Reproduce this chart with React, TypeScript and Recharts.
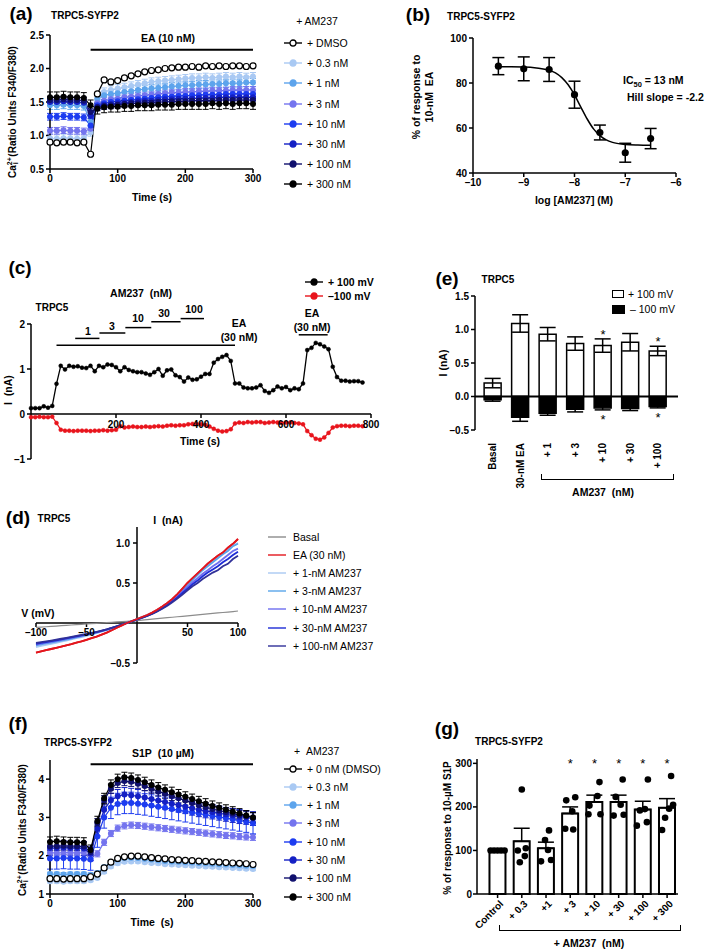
import React from 'react';
import {
  LineChart,
  Line,
  ComposedChart,
  Bar,
  Scatter,
  XAxis,
  YAxis,
  ErrorBar,
  ReferenceLine,
  ReferenceDot,
} from 'recharts';

const FONT = '"Liberation Sans", Arial, Helvetica, sans-serif';

// ---------- (a) Ca2+ trace, EA 10 nM with AM237 ----------
const timeA = [0, 10, 20, 30, 40, 50, 60, 70, 80, 90, 100, 110, 120, 130, 140, 150, 160, 170, 180, 190, 200, 210, 220, 230, 240, 250, 260, 270, 280, 290, 300];
const aDmso = [0.9, 0.89, 0.9, 0.9, 0.89, 0.9, 0.72, 1.62, 1.83, 1.8, 1.82, 1.86, 1.89, 1.92, 1.95, 1.97, 1.98, 2.0, 2.01, 2.02, 2.02, 2.03, 2.02, 2.04, 2.03, 2.04, 2.03, 2.04, 2.04, 2.03, 2.04];
const aC03 = [0.96, 0.95, 0.96, 0.96, 0.95, 0.96, 1.05, 1.55, 1.65, 1.68, 1.7, 1.72, 1.74, 1.76, 1.78, 1.8, 1.81, 1.82, 1.83, 1.84, 1.85, 1.86, 1.86, 1.87, 1.86, 1.87, 1.88, 1.87, 1.88, 1.87, 1.88];
const aC1 = [1.45, 1.45, 1.46, 1.45, 1.45, 1.44, 1.2, 1.55, 1.6, 1.62, 1.63, 1.65, 1.66, 1.68, 1.69, 1.7, 1.71, 1.72, 1.73, 1.74, 1.75, 1.75, 1.76, 1.76, 1.77, 1.77, 1.78, 1.78, 1.78, 1.79, 1.79];
const aC3 = [1.07, 1.07, 1.08, 1.07, 1.07, 1.06, 1.1, 1.48, 1.52, 1.54, 1.55, 1.57, 1.58, 1.59, 1.6, 1.61, 1.62, 1.63, 1.64, 1.64, 1.65, 1.65, 1.66, 1.66, 1.67, 1.67, 1.67, 1.68, 1.68, 1.68, 1.68];
const aC10 = [1.28, 1.28, 1.29, 1.28, 1.28, 1.27, 1.15, 1.45, 1.48, 1.5, 1.51, 1.52, 1.53, 1.54, 1.55, 1.56, 1.57, 1.58, 1.58, 1.59, 1.59, 1.6, 1.6, 1.61, 1.61, 1.61, 1.62, 1.62, 1.62, 1.62, 1.62];
const aC30 = [1.5, 1.5, 1.51, 1.5, 1.5, 1.49, 1.3, 1.43, 1.46, 1.47, 1.48, 1.49, 1.5, 1.51, 1.52, 1.52, 1.53, 1.54, 1.54, 1.55, 1.55, 1.55, 1.56, 1.56, 1.56, 1.57, 1.57, 1.57, 1.57, 1.57, 1.57];
const aC100 = [1.53, 1.53, 1.54, 1.53, 1.53, 1.52, 1.35, 1.42, 1.44, 1.45, 1.46, 1.47, 1.48, 1.48, 1.49, 1.49, 1.5, 1.5, 1.51, 1.51, 1.51, 1.52, 1.52, 1.52, 1.52, 1.53, 1.53, 1.53, 1.53, 1.53, 1.53];
const aC300 = [1.57, 1.57, 1.58, 1.57, 1.57, 1.56, 1.45, 1.4, 1.42, 1.43, 1.43, 1.44, 1.44, 1.45, 1.45, 1.45, 1.46, 1.46, 1.46, 1.47, 1.47, 1.47, 1.47, 1.47, 1.48, 1.47, 1.48, 1.47, 1.48, 1.48, 1.47];
// SEM per trace
const aErr = [0.06, 0.06, 0.05, 0.05, 0.05, 0.05, 0.08, 0.02];

// ---------- (b) concentration-response ----------
const bLogC = [-9.5, -9, -8.5, -8, -7.5, -7, -6.5];
const bResp = [87.5, 86.3, 86.0, 74.8, 58.0, 49.0, 55.3];
const bSem = [3.8, 5.3, 5.3, 6.0, 3.3, 4.2, 4.5];
const bFitX = [-9.5, -9.25, -9, -8.75, -8.5, -8.375, -8.25, -8.125, -8, -7.875, -7.75, -7.625, -7.5, -7.375, -7.25, -7, -6.75, -6.5];
const bFitY = [87.2, 87.18, 87.1, 86.7, 85.7, 84.5, 82.4, 79.2, 74.7, 69.3, 64.0, 59.6, 56.6, 54.7, 53.6, 52.7, 52.4, 52.3];

// ---------- (c) whole-cell current time course ----------
const cTime = [0, 10, 20, 30, 40, 50, 60, 70, 80, 90, 100, 110, 120, 130, 140, 150, 160, 170, 180, 190, 200, 210, 220, 230, 240, 250, 260, 270, 280, 290, 300, 310, 320, 330, 340, 350, 360, 370, 380, 390, 400, 410, 420, 430, 440, 450, 460, 470, 480, 490, 500, 510, 520, 530, 540, 550, 560, 570, 580, 590, 600, 610, 620, 630, 640, 650, 660, 670, 680, 690, 700, 710, 720, 730, 740, 750, 760, 770, 780];
const cPos = [
  0.13, 0.13, 0.13, 0.17, 0.14, 0.18, 0.67, 1.07, 0.99, 1.07,
  1.05, 1.06, 1.03, 1.02, 1.07, 0.95, 1.07, 1.04, 1.1, 1.09,
  1.04, 0.95, 1.04, 0.98, 0.95, 0.93, 0.93, 0.9, 0.87, 0.93,
  1.0, 0.85, 0.97, 0.99, 0.86, 0.82, 0.72, 0.81, 0.76, 0.77,
  0.83, 0.89, 0.89, 1.14, 1.22, 1.27, 1.31, 1.18, 0.68, 0.68,
  0.59, 0.57, 0.57, 0.59, 0.64, 0.51, 0.47, 0.53, 0.61, 0.57,
  0.6, 0.53, 0.57, 0.55, 0.68, 1.42, 1.47, 1.58, 1.55, 1.5,
  1.44, 1.05, 0.82, 0.74, 0.74, 0.72, 0.73, 0.73, 0.7,
];
const cNeg = [
  -0.07, -0.07, -0.06, -0.07, -0.07, -0.06, -0.2, -0.35, -0.37, -0.37,
  -0.38, -0.37, -0.37, -0.37, -0.38, -0.37, -0.37, -0.36, -0.37, -0.36,
  -0.35, -0.27, -0.3, -0.29, -0.28, -0.29, -0.29, -0.28, -0.29, -0.28,
  -0.27, -0.28, -0.26, -0.25, -0.26, -0.25, -0.25, -0.23, -0.22, -0.22,
  -0.23, -0.24, -0.28, -0.33, -0.37, -0.39, -0.38, -0.34, -0.21, -0.19,
  -0.2, -0.18, -0.19, -0.18, -0.18, -0.2, -0.19, -0.18, -0.19, -0.2,
  -0.19, -0.19, -0.2, -0.21, -0.23, -0.38, -0.47, -0.55, -0.57, -0.52,
  -0.42, -0.3, -0.27, -0.26, -0.26, -0.27, -0.26, -0.26, -0.27,
];

// ---------- (d) I-V relationships ----------
const ivV = [-100, -95, -90, -85, -80, -75, -70, -65, -60, -55, -50, -45, -40, -35, -30, -25, -20, -15, -10, -5, 0, 5, 10, 15, 20, 25, 30, 35, 40, 45, 50, 55, 60, 65, 70, 75, 80, 85, 90, 95, 100];
const ivBasal = [-0.055, -0.051, -0.047, -0.043, -0.039, -0.034, -0.03, -0.025, -0.021, -0.017, -0.012, -0.008, -0.004, 0.0, 0.004, 0.009, 0.013, 0.017, 0.021, 0.026, 0.03, 0.036, 0.042, 0.048, 0.054, 0.06, 0.066, 0.072, 0.078, 0.084, 0.09, 0.096, 0.102, 0.108, 0.114, 0.12, 0.126, 0.131, 0.137, 0.143, 0.15];
const ivEA = [-0.37, -0.355, -0.34, -0.325, -0.31, -0.295, -0.28, -0.265, -0.245, -0.23, -0.21, -0.19, -0.17, -0.145, -0.12, -0.09, -0.06, -0.03, 0.0, 0.025, 0.05, 0.075, 0.1, 0.13, 0.165, 0.205, 0.25, 0.3, 0.36, 0.43, 0.5, 0.56, 0.62, 0.68, 0.74, 0.79, 0.84, 0.88, 0.94, 0.99, 1.05];
const iv1 = [-0.3, -0.287, -0.273, -0.26, -0.247, -0.233, -0.22, -0.206, -0.19, -0.176, -0.16, -0.143, -0.126, -0.108, -0.09, -0.068, -0.046, -0.023, 0.0, 0.024, 0.048, 0.072, 0.097, 0.126, 0.16, 0.2, 0.245, 0.295, 0.355, 0.42, 0.49, 0.55, 0.61, 0.67, 0.72, 0.78, 0.82, 0.87, 0.92, 0.97, 1.0];
const iv3 = [-0.28, -0.268, -0.256, -0.244, -0.232, -0.22, -0.207, -0.194, -0.18, -0.166, -0.151, -0.136, -0.12, -0.103, -0.085, -0.065, -0.044, -0.022, 0.0, 0.023, 0.047, 0.07, 0.095, 0.124, 0.158, 0.198, 0.243, 0.29, 0.35, 0.415, 0.48, 0.54, 0.6, 0.66, 0.71, 0.76, 0.81, 0.86, 0.9, 0.96, 0.99];
const iv10 = [-0.27, -0.258, -0.246, -0.235, -0.223, -0.211, -0.199, -0.186, -0.173, -0.16, -0.146, -0.131, -0.116, -0.1, -0.083, -0.063, -0.043, -0.022, 0.0, 0.022, 0.045, 0.068, 0.092, 0.12, 0.152, 0.19, 0.232, 0.28, 0.335, 0.395, 0.455, 0.51, 0.56, 0.615, 0.66, 0.71, 0.75, 0.8, 0.85, 0.9, 0.93];
const iv30 = [-0.26, -0.249, -0.238, -0.227, -0.216, -0.204, -0.192, -0.18, -0.168, -0.155, -0.142, -0.128, -0.113, -0.098, -0.081, -0.062, -0.042, -0.021, 0.0, 0.022, 0.044, 0.066, 0.09, 0.117, 0.148, 0.184, 0.225, 0.27, 0.32, 0.375, 0.43, 0.485, 0.53, 0.585, 0.63, 0.67, 0.71, 0.76, 0.8, 0.85, 0.89];
const iv100 = [-0.25, -0.24, -0.23, -0.219, -0.208, -0.197, -0.186, -0.174, -0.162, -0.15, -0.137, -0.124, -0.11, -0.095, -0.079, -0.061, -0.041, -0.021, 0.0, 0.021, 0.043, 0.065, 0.088, 0.114, 0.144, 0.178, 0.216, 0.26, 0.305, 0.355, 0.41, 0.46, 0.5, 0.55, 0.59, 0.63, 0.66, 0.71, 0.74, 0.8, 0.84];

// ---------- (e) mean currents ----------
const eCats = ['Basal', '30-nM EA', '+ 1', '+ 3', '+ 10', '+ 30', '+ 100'];
const ePos = [0.2, 1.09, 0.93, 0.79, 0.76, 0.81, 0.68];
const ePosErr = [0.07, 0.13, 0.1, 0.1, 0.1, 0.13, 0.07];
const eNeg = [-0.05, -0.31, -0.25, -0.19, -0.17, -0.18, -0.15];
const eNegErr = [0.02, 0.06, 0.03, 0.04, 0.03, 0.03, 0.02];
const eSig = [false, false, false, false, true, false, true];

// ---------- (f) Ca2+ trace, S1P 10 uM with AM237 ----------
const fDmso = [1.4, 1.4, 1.39, 1.4, 1.4, 1.4, 1.45, 1.52, 1.68, 1.83, 1.93, 1.97, 1.99, 1.99, 1.97, 1.95, 1.93, 1.92, 1.9, 1.89, 1.88, 1.87, 1.86, 1.85, 1.84, 1.83, 1.82, 1.81, 1.8, 1.79, 1.77];
const fC03 = [1.33, 1.33, 1.32, 1.33, 1.33, 1.33, 1.36, 1.42, 1.58, 1.72, 1.8, 1.84, 1.85, 1.85, 1.83, 1.81, 1.8, 1.78, 1.77, 1.76, 1.75, 1.74, 1.73, 1.72, 1.71, 1.7, 1.69, 1.68, 1.67, 1.66, 1.65];
const fC1 = [1.52, 1.52, 1.51, 1.52, 1.52, 1.52, 1.5, 1.55, 1.7, 1.82, 1.9, 1.94, 1.95, 1.94, 1.92, 1.9, 1.88, 1.86, 1.85, 1.84, 1.83, 1.82, 1.81, 1.8, 1.79, 1.78, 1.77, 1.76, 1.75, 1.74, 1.73];
const fC3 = [2.08, 2.07, 2.08, 2.08, 2.07, 2.08, 1.95, 2.05, 2.35, 2.58, 2.72, 2.78, 2.8, 2.79, 2.77, 2.75, 2.73, 2.71, 2.69, 2.67, 2.65, 2.63, 2.61, 2.59, 2.57, 2.55, 2.53, 2.52, 2.5, 2.49, 2.48];
const fC10 = [1.93, 1.93, 1.94, 1.93, 1.93, 1.92, 1.9, 2.5, 3.0, 3.25, 3.35, 3.38, 3.38, 3.36, 3.34, 3.31, 3.28, 3.25, 3.22, 3.19, 3.16, 3.13, 3.1, 3.07, 3.04, 3.01, 2.98, 2.95, 2.92, 2.89, 2.85];
const fC30 = [2.2, 2.2, 2.21, 2.2, 2.2, 2.19, 2.05, 2.7, 3.2, 3.45, 3.55, 3.6, 3.58, 3.55, 3.52, 3.48, 3.44, 3.4, 3.36, 3.32, 3.28, 3.24, 3.2, 3.17, 3.14, 3.11, 3.08, 3.05, 3.02, 3.0, 2.97];
const fC100 = [2.25, 2.25, 2.26, 2.25, 2.25, 2.24, 2.1, 2.85, 3.45, 3.75, 3.9, 3.95, 3.93, 3.88, 3.82, 3.75, 3.68, 3.62, 3.56, 3.5, 3.44, 3.38, 3.32, 3.27, 3.22, 3.18, 3.14, 3.1, 3.06, 3.03, 3.0];
const fC300 = [2.36, 2.38, 2.36, 2.35, 2.35, 2.34, 2.15, 2.9, 3.5, 3.85, 4.0, 4.05, 4.03, 3.98, 3.92, 3.85, 3.78, 3.72, 3.66, 3.6, 3.54, 3.48, 3.42, 3.36, 3.3, 3.25, 3.2, 3.15, 3.1, 3.05, 3.0];
const fErr = [0.04, 0.05, 0.08, 0.28, 0.18, 0.12, 0.13, 0.03];

// ---------- (g) normalised S1P responses ----------
const gCats = ['Control', '+ 0.3', '+1', '+ 3', '+ 10', '+ 30', '+ 100', '+ 300'];
const gMean = [100, 121, 105, 185, 211, 211, 194, 198];
const gSem = [0, 30, 14, 15, 16, 16, 19, 21];
const gPoints = [
  [100, 100, 100, 100, 100],
  [240, 100, 105, 87, 73],
  [146, 124, 101, 75, 78],
  [215, 222, 190, 150, 148],
  [257, 225, 203, 183, 183],
  [263, 223, 205, 180, 182],
  [263, 195, 192, 157, 165],
  [271, 205, 196, 175, 147],
];
const gSig = [false, false, false, true, true, true, true, true];

// ---------- styling ----------
const traceLabels = ['+ 0.3 nM', '+ 1 nM', '+ 3 nM', '+ 10 nM', ' + 30 nM', '+ 100 nM', ' + 300 nM'];
const traceColors = ['#a9c9f3', '#5da4ec', '#7474ee', '#1d3cf0', '#1420c4', '#10106e', '#000000'];
const traceKeys = ['c03', 'c1', 'c3', 'c10', 'c30', 'c100', 'c300', 'dmso'];
const ivKeys = ['basal', 'ea', 'n1', 'n3', 'n10', 'n30', 'n100'];
const ivLabels = ['Basal', 'EA (30 nM)', '+ 1-nM AM237', '+ 3-nM AM237', '+ 10-nM AM237', '+ 30-nM AM237', '+ 100-nM AM237'];
const ivColors = ['#8c8c8c', '#e3161d', '#a9c9f3', '#5aa5ea', '#6e6ef0', '#1d2bd6', '#303098'];
const gJitter = [
  [-7, -3.5, 0, 3.5, 7],
  [0, -4, 4, 3, -2],
  [3, -1, 2, -5, 5],
  [-4, 5, 2, -5, 3],
  [5, 3, -5, -6, 6],
  [4, -3, 2, -5, 5],
  [5, 2, -3, -6, 4],
  [4, 6, 2, -2, -5],
];

const AX = { stroke: '#000', strokeWidth: 1.5 };
const TK = { fontSize: 10, fontWeight: 700, fill: '#000', fontFamily: FONT };
const dash = (v: number) => String(v).replace('-', '\u2013');
const dash1 = (v: number) => v.toFixed(1).replace('-', '\u2013');

const frame = (l: number, t: number, r: number, b: number, yw = 40, xh = 22, mt = 14, mr = 14, mb = 4) => ({
  style: { position: 'absolute' as const, left: l - yw, top: t - mt },
  width: r - l + yw + mr,
  height: b - t + mt + xh + mb,
  margin: { top: mt, right: mr, left: 0, bottom: mb },
  yw,
  xh,
});

type TP = { x: number; y: number; s?: number; b?: boolean; a?: 'start' | 'middle'; r?: number; lh?: number; children: React.ReactNode };
const T = ({ x, y, s = 10.5, b = true, a = 'middle', r = 0, lh = 1.15, children }: TP) => (
  <div
    style={{
      position: 'absolute',
      left: x,
      top: y,
      transform: `translate(${a === 'start' ? '0' : '-50%'}, -50%) rotate(${r}deg)`,
      fontSize: s,
      fontWeight: b ? 700 : 400,
      whiteSpace: 'nowrap',
      lineHeight: lh,
      textAlign: 'center',
      fontFamily: FONT,
      color: '#000',
    }}
  >
    {children}
  </div>
);

const Mark = ({ x, y, color, open, dot = true }: { x: number; y: number; color: string; open?: boolean; dot?: boolean }) => (
  <svg width={18} height={10} style={{ position: 'absolute', left: x - 9, top: y - 5 }}>
    <line x1={0} y1={5} x2={18} y2={5} stroke={open ? '#000' : color} strokeWidth={1.4} />
    {dot && <circle cx={9} cy={5} r={3} fill={open ? '#fff' : color} stroke={open ? '#000' : color} strokeWidth={1.3} />}
  </svg>
);

const CaLabel = () => (
  <span>
    Ca<sup style={{ fontSize: 7, verticalAlign: 4 }}>2+</sup>
    <sub style={{ fontSize: 7, marginLeft: -7, verticalAlign: -2 }}>i</sub>&nbsp;&nbsp;(Ratio Units F340/F380)
  </span>
);

function buildRows(series: number[][], errs: number[]) {
  return timeA.map((t, i) => {
    const row: Record<string, number> = { t };
    traceKeys.forEach((k, j) => {
      row[k] = series[j][i];
      row['e_' + k] = errs[j];
    });
    return row;
  });
}

const rowsA = buildRows([aC03, aC1, aC3, aC10, aC30, aC100, aC300, aDmso], aErr);
const rowsF = buildRows([fC03, fC1, fC3, fC10, fC30, fC100, fC300, fDmso], fErr);
const rowsB = bLogC.map((x, i) => ({ x, y: bResp[i], e: bSem[i] }));
const rowsFit = bFitX.map((x, i) => ({ x, y: bFitY[i] }));
const rowsC = cTime.map((t, i) => ({ t, p: cPos[i], n: cNeg[i] }));
const rowsD = ivV.map((v, i) => ({ v, basal: ivBasal[i], ea: ivEA[i], n1: iv1[i], n3: iv3[i], n10: iv10[i], n30: iv30[i], n100: iv100[i] }));
const rowsE = eCats.map((_, i) => ({ x: i, p: ePos[i], pe: ePosErr[i], n: eNeg[i], ne: eNegErr[i] }));
const starsE = eCats.flatMap((_, i) => (eSig[i] ? [{ x: i, y: ePos[i] + ePosErr[i] + 0.13 }, { x: i, y: eNeg[i] - eNegErr[i] - 0.08 }] : []));
const rowsG = gCats.map((_, i) => ({ x: i, m: gMean[i], e: [0, gSem[i]] }));
const dotsG = gPoints.flatMap((pts, i) => pts.map((y, j) => ({ x: i, y, cat: i, j })));
const starsG = gCats.flatMap((_, i) => (gSig[i] ? [{ x: i, y: 310 }] : []));

const Star = (p: any) => (
  <text x={p.cx} y={p.cy + 4} textAnchor="middle" dominantBaseline="central" fontSize={13} fontFamily={FONT} fill="#000">*</text>
);

function traceSeries() {
  return traceKeys.map((k, j) => {
    const open = k === 'dmso';
    const color = open ? '#000' : traceColors[j];
    return (
      <Line
        key={k}
        dataKey={k}
        stroke={color}
        strokeWidth={1.2}
        isAnimationActive={false}
        dot={{ r: open ? 3 : 2.4, fill: open ? '#fff' : color, stroke: color, strokeWidth: 1.2 }}
      >
        <ErrorBar dataKey={'e_' + k} direction="y" width={3} stroke={color} strokeWidth={1} />
      </Line>
    );
  });
}

const A = frame(50, 35, 253, 169, 40, 20);
const B = frame(473, 38, 676, 173, 40, 20);
const C = frame(31, 324, 371, 459, 22, 10);
const D = frame(36, 527, 238, 663, 20, 10);
const E = frame(475, 296, 678, 430, 30, 60, 10);
const F = frame(50, 760, 253, 894, 40, 20);
const G = frame(477, 759, 678, 894, 30, 50, 10);

const ETick = ({ x, y, payload }: any) => (
  <text x={x} y={y + 5} transform={`rotate(-90 ${x} ${y + 5})`} textAnchor="end" dominantBaseline="central" fontSize={10} fontWeight={700} fontFamily={FONT} fill="#000">
    {eCats[payload.value]}
  </text>
);
const GTick = ({ x, y, payload }: any) => (
  <text x={x + 4} y={y + 2} transform={`rotate(-45 ${x + 4} ${y + 2})`} textAnchor="end" dominantBaseline="central" fontSize={10} fontWeight={700} fontFamily={FONT} fill="#000">
    {gCats[payload.value]}
  </text>
);

const lbl = (value: string, position: string, offset: number) => ({ value, position, offset, fill: '#000', fontSize: 10, fontWeight: 700, fontFamily: FONT });

export default function App() {
  return (
    <div style={{ position: 'absolute', left: 0, top: 0, width: 709, height: 952, background: '#fff', fontFamily: FONT, overflow: 'hidden' }}>
      {/* (a) */}
      <div style={A.style}>
        <LineChart width={A.width} height={A.height} data={rowsA} margin={A.margin}>
          <XAxis type="number" dataKey="t" domain={[0, 300]} ticks={[0, 100, 200, 300]} axisLine={AX} tickLine={AX} tickSize={4} tick={TK} height={A.xh} />
          <YAxis type="number" domain={[0.5, 2.5]} ticks={[0.5, 1, 1.5, 2, 2.5]} tickFormatter={dash1} axisLine={AX} tickLine={AX} tickSize={4} tick={TK} width={A.yw} />
          <ReferenceLine segment={[{ x: 60, y: 2.28 }, { x: 300, y: 2.28 }]} stroke="#000" strokeWidth={2} ifOverflow="visible" />
          {traceSeries()}
        </LineChart>
      </div>
      <T x={21} y={14} s={19}>(a)</T>
      <T x={85} y={16} s={10}>TRPC5-SYFP2</T>
      <T x={317} y={21} b={false}>+ AM237</T>
      <T x={168} y={38}>EA (10 nM)</T>
      <T x={13} y={112} r={-90} s={10}><CaLabel /></T>
      <T x={152} y={197}>Time (s)</T>
      {['+ DMSO', ...traceLabels].map((l, i) => (
        <React.Fragment key={'la' + i}>
          <Mark x={293} y={43 + 20.2 * i} color={i === 0 ? '#000' : traceColors[i - 1]} open={i === 0} />
          <T x={307} y={43 + 20.2 * i} a="start" b={false}>{l}</T>
        </React.Fragment>
      ))}

      {/* (b) */}
      <div style={B.style}>
        <ComposedChart width={B.width} height={B.height} margin={B.margin}>
          <XAxis type="number" dataKey="x" domain={[-10, -6]} ticks={[-10, -9, -8, -7, -6]} tickFormatter={dash} axisLine={AX} tickLine={AX} tickSize={4} tick={TK} height={B.xh} />
          <YAxis type="number" domain={[40, 100]} ticks={[40, 60, 80, 100]} axisLine={AX} tickLine={AX} tickSize={4} tick={TK} width={B.yw} />
          <Line data={rowsFit} dataKey="y" type="monotone" stroke="#000" strokeWidth={1.5} dot={false} isAnimationActive={false} />
          <Scatter data={rowsB} dataKey="y" isAnimationActive={false} shape={(p: any) => <circle cx={p.cx} cy={p.cy} r={3.6} fill="#000" />}>
            <ErrorBar dataKey="e" direction="y" width={6} stroke="#000" strokeWidth={1.5} />
          </Scatter>
        </ComposedChart>
      </div>
      <T x={418} y={15} s={19}>(b)</T>
      <T x={481} y={17} s={10}>TRPC5-SYFP2</T>
      <T x={423} y={97} r={-90} lh={1.25}>% of response to<br />10-nM&nbsp;&nbsp;EA</T>
      <T x={574} y={200}>log [AM237] (M)</T>
      <T x={623} y={82} a="start">IC<sub style={{ fontSize: 7.5 }}>50</sub> = 13 nM</T>
      <T x={627} y={97} a="start">Hill slope = -2.2</T>

      {/* (c) */}
      <div style={C.style}>
        <LineChart width={C.width} height={C.height} data={rowsC} margin={C.margin}>
          <XAxis type="number" dataKey="t" domain={[0, 800]} axisLine={false} tickLine={false} tick={false} height={C.xh} />
          <YAxis type="number" domain={[-1, 2]} ticks={[-1, 0, 1, 2]} tickFormatter={dash} axisLine={AX} tickLine={AX} tickSize={4} tick={TK} width={C.yw} />
          <ReferenceLine y={0} stroke="#000" strokeWidth={1.5} />
          {[200, 400, 600, 800].map((t) => (
            <ReferenceLine key={'ct' + t} segment={[{ x: t, y: 0 }, { x: t, y: -0.09 }]} stroke="#000" strokeWidth={1.5} ifOverflow="visible" />
          ))}
          {[200, 400, 600, 800].map((t) => (
            <ReferenceDot key={'cl' + t} x={t} y={0} r={0} fill="none" stroke="none" ifOverflow="visible" label={lbl(String(t), 'bottom', 7)} />
          ))}
          <ReferenceLine segment={[{ x: 60, y: 1.53 }, { x: 480, y: 1.53 }]} stroke="#000" strokeWidth={1.5} ifOverflow="visible" />
          <ReferenceLine segment={[{ x: 104, y: 1.68 }, { x: 161, y: 1.68 }]} stroke="#000" strokeWidth={1.5} ifOverflow="visible" />
          <ReferenceLine segment={[{ x: 161, y: 1.8 }, { x: 222, y: 1.8 }]} stroke="#000" strokeWidth={1.5} ifOverflow="visible" />
          <ReferenceLine segment={[{ x: 222, y: 1.92 }, { x: 283, y: 1.92 }]} stroke="#000" strokeWidth={1.5} ifOverflow="visible" />
          <ReferenceLine segment={[{ x: 283, y: 2.05 }, { x: 352, y: 2.05 }]} stroke="#000" strokeWidth={1.5} ifOverflow="visible" />
          <ReferenceLine segment={[{ x: 352, y: 2.12 }, { x: 407, y: 2.12 }]} stroke="#000" strokeWidth={1.5} ifOverflow="visible" />
          <ReferenceLine segment={[{ x: 630, y: 1.76 }, { x: 698, y: 1.76 }]} stroke="#000" strokeWidth={1.5} ifOverflow="visible" />
          <Line dataKey="n" stroke="#e8141c" strokeWidth={1.3} dot={{ r: 2, fill: '#e8141c', stroke: '#e8141c', strokeWidth: 0.5 }} isAnimationActive={false} />
          <Line dataKey="p" stroke="#000" strokeWidth={1.3} dot={{ r: 2, fill: '#000', stroke: '#000', strokeWidth: 0.5 }} isAnimationActive={false} />
        </LineChart>
      </div>
      <T x={20} y={268} s={19}>(c)</T>
      <Mark x={314} y={282} color="#000" />
      <T x={328} y={282} a="start">+ 100 mV</T>
      <Mark x={314} y={296} color="#e8141c" />
      <T x={328} y={296} a="start">{'\u2013100 mV'}</T>
      <T x={141} y={293}>AM237&nbsp;&nbsp;(nM)</T>
      <T x={52} y={308} s={10}>TRPC5</T>
      <T x={8} y={390} r={-90}>I&nbsp;&nbsp;(nA)</T>
      <T x={200} y={441}>Time (s)</T>
      <T x={88} y={331}>1</T>
      <T x={112} y={326}>3</T>
      <T x={138} y={318}>10</T>
      <T x={164} y={313}>30</T>
      <T x={194} y={309}>100</T>
      <T x={239} y={323}>EA</T>
      <T x={239} y={337}>(30 nM)</T>
      <T x={312} y={313}>EA</T>
      <T x={312} y={327}>(30 nM)</T>

      {/* (d) */}
      <div style={D.style}>
        <LineChart width={D.width} height={D.height} data={rowsD} margin={D.margin}>
          <XAxis type="number" dataKey="v" domain={[-100, 100]} axisLine={false} tickLine={false} tick={false} height={D.xh} />
          <YAxis type="number" domain={[-0.5, 1.2]} axisLine={false} tickLine={false} tick={false} width={D.yw} />
          <ReferenceLine x={0} stroke="#000" strokeWidth={1.5} />
          <ReferenceLine y={0} stroke="#000" strokeWidth={1.5} />
          {[1, 0.5, -0.5].map((v) => (
            <ReferenceLine key={'dy' + v} segment={[{ x: -4, y: v }, { x: 0, y: v }]} stroke="#000" strokeWidth={1.5} />
          ))}
          {[1, 0.5, -0.5].map((v) => (
            <ReferenceDot key={'dyl' + v} x={-4} y={v} r={0} fill="none" stroke="none" label={lbl(dash1(v), 'left', 3)} />
          ))}
          {[-100, -50, 50, 100].map((t) => (
            <ReferenceLine key={'dx' + t} segment={[{ x: t, y: 0 }, { x: t, y: -0.05 }]} stroke="#000" strokeWidth={1.5} />
          ))}
          {[-100, -50, 50, 100].map((t) => (
            <ReferenceDot key={'dxl' + t} x={t} y={-0.05} r={0} fill="none" stroke="none" label={lbl(dash(t), 'bottom', 2)} />
          ))}
          {ivKeys.map((k, i) => (
            <Line key={k} dataKey={k} stroke={ivColors[i]} strokeWidth={k === 'basal' ? 1.2 : 1.8} dot={false} isAnimationActive={false} />
          ))}
          <Line dataKey="ea" stroke={ivColors[1]} strokeWidth={1.8} dot={false} isAnimationActive={false} />
        </LineChart>
      </div>
      <T x={18} y={518} s={19}>(d)</T>
      <T x={54} y={519} s={10}>TRPC5</T>
      <T x={168} y={520}>I&nbsp;&nbsp;(nA)</T>
      <T x={38} y={613}>V (mV)</T>
      {ivLabels.map((l, i) => (
        <React.Fragment key={'ld' + i}>
          <Mark x={277} y={537 + 18.1 * i} color={ivColors[i]} dot={false} />
          <T x={293} y={537 + 18.1 * i} a="start" b={false}>{l}</T>
        </React.Fragment>
      ))}

      {/* (e) */}
      <div style={E.style}>
        <ComposedChart width={E.width} height={E.height} data={rowsE} margin={E.margin} barGap={-17}>
          <XAxis type="number" dataKey="x" domain={[-0.65, 6.73]} ticks={[0, 1, 2, 3, 4, 5, 6]} axisLine={false} tickLine={false} tick={ETick} height={E.xh} interval={0} />
          <YAxis type="number" domain={[-0.5, 1.5]} ticks={[-0.5, 0, 0.5, 1, 1.5]} tickFormatter={dash1} axisLine={AX} tickLine={AX} tickSize={4} tick={TK} width={E.yw} />
          <Bar dataKey="p" barSize={17} fill="#fff" stroke="#000" strokeWidth={1.5} isAnimationActive={false}>
            <ErrorBar dataKey="pe" direction="y" width={8} stroke="#000" strokeWidth={1.5} />
          </Bar>
          <Bar dataKey="n" barSize={17} fill="#000" stroke="#000" strokeWidth={1.5} isAnimationActive={false}>
            <ErrorBar dataKey="ne" direction="y" width={8} stroke="#000" strokeWidth={1.5} />
          </Bar>
          <ReferenceLine y={0} stroke="#000" strokeWidth={2} />
          <Scatter data={starsE} dataKey="y" shape={Star} isAnimationActive={false} />
        </ComposedChart>
      </div>
      <T x={447} y={279} s={19}>(e)</T>
      <T x={498} y={280} s={10}>TRPC5</T>
      <T x={443} y={363} r={-90}>I (nA)</T>
      <div style={{ position: 'absolute', left: 612, top: 290, width: 10, height: 6, border: '1.5px solid #000', background: '#fff' }} />
      <T x={628} y={294} a="start" b={false}>+ 100 mV</T>
      <div style={{ position: 'absolute', left: 612, top: 305, width: 13, height: 9, background: '#000' }} />
      <T x={630} y={309} a="start" b={false}>{'\u2013 100 mV'}</T>
      <div style={{ position: 'absolute', left: 541, top: 474, width: 131, height: 5, borderLeft: '1.5px solid #000', borderRight: '1.5px solid #000', borderBottom: '1.5px solid #000' }} />
      <T x={603} y={492}>AM237&nbsp;&nbsp;(nM)</T>

      {/* (f) */}
      <div style={F.style}>
        <LineChart width={F.width} height={F.height} data={rowsF} margin={F.margin}>
          <XAxis type="number" dataKey="t" domain={[0, 300]} ticks={[0, 100, 200, 300]} axisLine={AX} tickLine={AX} tickSize={4} tick={TK} height={F.xh} />
          <YAxis type="number" domain={[1, 4.5]} ticks={[1, 2, 3, 4]} axisLine={AX} tickLine={AX} tickSize={4} tick={TK} width={F.yw} />
          <ReferenceLine segment={[{ x: 60, y: 4.39 }, { x: 300, y: 4.39 }]} stroke="#000" strokeWidth={2} ifOverflow="visible" />
          {traceSeries()}
        </LineChart>
      </div>
      <T x={18} y={724} s={19}>(f)</T>
      <T x={78} y={743} s={10}>TRPC5-SYFP2</T>
      <T x={163} y={753}>S1P&nbsp;&nbsp;(10 µM)</T>
      <T x={23} y={830} r={-90} s={10}><CaLabel /></T>
      <T x={152} y={922}>Time&nbsp;&nbsp;(s)</T>
      <T x={294} y={751} a="start" b={false}>+&nbsp;&nbsp;AM237</T>
      {['+ 0 nM (DMSO)', '+ 0.3 nM', '+ 1 nM', '+ 3 nM', '+ 10 nM', '+ 30 nM', '+ 100 nM', '+ 300 nM'].map((l, i) => (
        <React.Fragment key={'lf' + i}>
          <Mark x={293} y={768.5 + 18.3 * i} color={i === 0 ? '#000' : traceColors[i - 1]} open={i === 0} />
          <T x={307} y={768.5 + 18.3 * i} a="start" b={false}>{l}</T>
        </React.Fragment>
      ))}

      {/* (g) */}
      <div style={G.style}>
        <ComposedChart width={G.width} height={G.height} data={rowsG} margin={G.margin}>
          <XAxis type="number" dataKey="x" domain={[-0.85, 7.45]} ticks={[0, 1, 2, 3, 4, 5, 6, 7]} axisLine={AX} tickLine={AX} tickSize={4} tick={GTick} height={G.xh} interval={0} />
          <YAxis type="number" domain={[0, 300]} ticks={[0, 100, 200, 300]} axisLine={AX} tickLine={AX} tickSize={4} tickMargin={1} tick={TK} width={G.yw} />
          <Bar dataKey="m" barSize={16} fill="#fff" stroke="#000" strokeWidth={2} isAnimationActive={false}>
            <ErrorBar dataKey="e" direction="y" width={8} stroke="#000" strokeWidth={1.5} />
          </Bar>
          <Scatter
            data={dotsG}
            dataKey="y"
            isAnimationActive={false}
            shape={(p: any) => <circle cx={p.cx + gJitter[p.payload.cat][p.payload.j]} cy={p.cy} r={3.3} fill="#000" />}
          />
          <Scatter data={starsG} dataKey="y" shape={Star} isAnimationActive={false} />
        </ComposedChart>
      </div>
      <T x={447} y={729} s={19}>(g)</T>
      <T x={509} y={742} s={10}>TRPC5-SYFP2</T>
      <T x={448} y={828} r={-90} s={10}>% of response to 10-µM S1P</T>
      <div style={{ position: 'absolute', left: 499, top: 925, width: 180, height: 5, borderLeft: '1.5px solid #000', borderRight: '1.5px solid #000', borderBottom: '1.5px solid #000' }} />
      <T x={589} y={943}>+ AM237&nbsp;&nbsp;(nM)</T>
    </div>
  );
}
